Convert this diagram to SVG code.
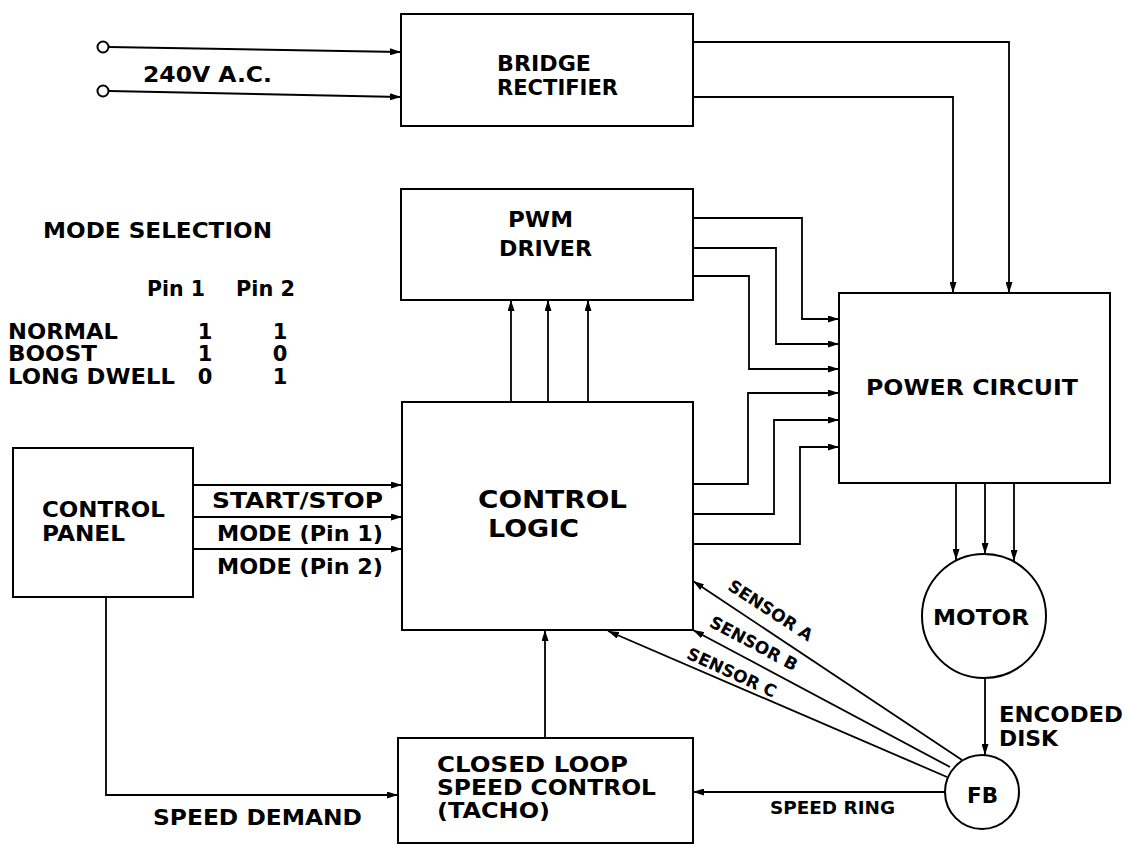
<svg xmlns="http://www.w3.org/2000/svg" width="1127" height="844" viewBox="0 0 1127 844">
<style>
.box{fill:none;stroke:#000;stroke-width:2}
.ln{fill:none;stroke:#000;stroke-width:1.8}
.arr{marker-end:url(#ah)}
text{font-family:"DejaVu Sans","Liberation Sans",sans-serif;font-weight:bold;fill:#000}
.t22{font-size:22px}
.t21{font-size:21px}
.t28{font-size:24.5px}
.t17{font-size:17px}
</style>
<defs>
<marker id="ah" markerUnits="userSpaceOnUse" markerWidth="11" markerHeight="7" refX="11" refY="3.5" orient="auto">
<path d="M0,0 L11,3.5 L0,7 z" fill="#000"/>
</marker>
</defs>
<rect width="1127" height="844" fill="#fff"/>

<g id="ac-input">
<circle cx="103" cy="47" r="5.5" class="box" stroke-width="1.6"/>
<circle cx="103" cy="91" r="5.5" class="box" stroke-width="1.6"/>
<text class="t22" x="143" y="82" textLength="129" lengthAdjust="spacingAndGlyphs">240V  A.C.</text>
</g>

<g id="bridge-rectifier">
<rect class="box" x="401" y="14" width="292" height="112"/>
<text class="t21" x="497" y="71" textLength="94" lengthAdjust="spacingAndGlyphs">BRIDGE</text>
<text class="t21" x="497" y="95" textLength="121" lengthAdjust="spacingAndGlyphs">RECTIFIER</text>
</g>

<g id="pwm-driver">
<rect class="box" x="401" y="189" width="292" height="111"/>
<text class="t22" x="508" y="227" textLength="65" lengthAdjust="spacingAndGlyphs">PWM</text>
<text class="t22" x="499" y="256" textLength="93" lengthAdjust="spacingAndGlyphs">DRIVER</text>
</g>

<g id="mode-selection">
<text class="t22" x="43" y="238" textLength="229" lengthAdjust="spacingAndGlyphs">MODE SELECTION</text>
<text class="t21" x="147" y="296" textLength="58" lengthAdjust="spacingAndGlyphs">Pin 1</text>
<text class="t21" x="236" y="296" textLength="59" lengthAdjust="spacingAndGlyphs">Pin 2</text>
<text class="t21" x="8" y="339" textLength="110" lengthAdjust="spacingAndGlyphs">NORMAL</text>
<text class="t21" x="8" y="361" textLength="89" lengthAdjust="spacingAndGlyphs">BOOST</text>
<text class="t21" x="8" y="384" textLength="167" lengthAdjust="spacingAndGlyphs">LONG DWELL</text>
<text class="t21" x="205" y="339" text-anchor="middle">1</text>
<text class="t21" x="205" y="361" text-anchor="middle">1</text>
<text class="t21" x="205" y="384" text-anchor="middle">0</text>
<text class="t21" x="280" y="339" text-anchor="middle">1</text>
<text class="t21" x="280" y="361" text-anchor="middle">0</text>
<text class="t21" x="280" y="384" text-anchor="middle">1</text>
</g>

<g id="control-panel">
<rect class="box" x="13" y="448" width="180" height="149"/>
<text class="t22" x="42" y="517" textLength="123" lengthAdjust="spacingAndGlyphs">CONTROL</text>
<text class="t22" x="42" y="541" textLength="83" lengthAdjust="spacingAndGlyphs">PANEL</text>
</g>

<g id="control-logic">
<rect class="box" x="402" y="402" width="291" height="228"/>
<text class="t28" x="478" y="508" textLength="149" lengthAdjust="spacingAndGlyphs">CONTROL</text>
<text class="t28" x="488" y="537" textLength="91" lengthAdjust="spacingAndGlyphs">LOGIC</text>
</g>

<g id="power-circuit">
<rect class="box" x="839" y="293" width="271" height="190"/>
<text class="t22" x="866" y="395" textLength="212" lengthAdjust="spacingAndGlyphs">POWER CIRCUIT</text>
</g>

<g id="motor">
<circle class="box" cx="984" cy="616" r="62"/>
<text class="t22" x="933" y="625" textLength="96" lengthAdjust="spacingAndGlyphs">MOTOR</text>
</g>

<g id="fb">
<circle class="box" cx="982" cy="792" r="37"/>
<text class="t22" x="967" y="803" textLength="31" lengthAdjust="spacingAndGlyphs">FB</text>
</g>

<g id="closed-loop">
<rect class="box" x="398" y="738" width="295" height="105"/>
<text class="t22" x="437" y="772" textLength="191" lengthAdjust="spacingAndGlyphs">CLOSED  LOOP</text>
<text class="t22" x="437" y="795" textLength="219" lengthAdjust="spacingAndGlyphs">SPEED CONTROL</text>
<text class="t22" x="437" y="818" textLength="113" lengthAdjust="spacingAndGlyphs">(TACHO)</text>
</g>

<g id="connectors">
<path class="ln arr" d="M109,47 L401,52"/>
<path class="ln arr" d="M109,91 L401,97"/>
<path class="ln arr" d="M693,42 H1009 V293"/>
<path class="ln arr" d="M693,97 H953 V293"/>
<path class="ln arr" d="M693,218 H802 V319 H839"/>
<path class="ln arr" d="M693,248 H776 V344 H839"/>
<path class="ln arr" d="M693,276 H749 V369 H839"/>
<path class="ln arr" d="M693,484 H748 V393 H839"/>
<path class="ln arr" d="M693,514 H774 V420 H839"/>
<path class="ln arr" d="M693,544 H800 V447 H839"/>
<path class="ln arr" d="M511,402 V300"/>
<path class="ln arr" d="M548,402 V300"/>
<path class="ln arr" d="M588,402 V300"/>
<path class="ln arr" d="M193,485 H402"/>
<path class="ln arr" d="M193,517 H402"/>
<path class="ln arr" d="M193,549 H402"/>
<path class="ln arr" d="M956,483 V560"/>
<path class="ln arr" d="M985,483 V554"/>
<path class="ln arr" d="M1014,483 V561"/>
<path class="ln arr" d="M985,678 V755"/>
<path class="ln arr" d="M945,792 H693"/>
<path class="ln arr" d="M962,760 L693,581"/>
<path class="ln arr" d="M950,767 L693,630"/>
<path class="ln arr" d="M947,777 L608,631"/>
<path class="ln arr" d="M106,597 V795 H398"/>
<path class="ln arr" d="M545,738 V630"/>
<text class="t22" x="212" y="508" textLength="171" lengthAdjust="spacingAndGlyphs">START/STOP</text>
<text class="t22" x="217" y="541" textLength="166" lengthAdjust="spacingAndGlyphs">MODE (Pin 1)</text>
<text class="t22" x="217" y="574" textLength="166" lengthAdjust="spacingAndGlyphs">MODE (Pin 2)</text>
<text class="t22" x="153" y="825" textLength="209" lengthAdjust="spacingAndGlyphs">SPEED DEMAND</text>
<text class="t17" x="770" y="814" textLength="125" lengthAdjust="spacingAndGlyphs">SPEED RING</text>
<text class="t22" x="999" y="722" textLength="124" lengthAdjust="spacingAndGlyphs">ENCODED</text>
<text class="t22" x="999" y="746" textLength="59" lengthAdjust="spacingAndGlyphs">DISK</text>
<text class="t17" text-anchor="middle" transform="translate(767.5,615.5) rotate(33)">SENSOR A</text>
<text class="t17" text-anchor="middle" transform="translate(751,648.7) rotate(28)">SENSOR B</text>
<text class="t17" text-anchor="middle" transform="translate(729.3,677.9) rotate(24.5)">SENSOR C</text>
</g>
</svg>
